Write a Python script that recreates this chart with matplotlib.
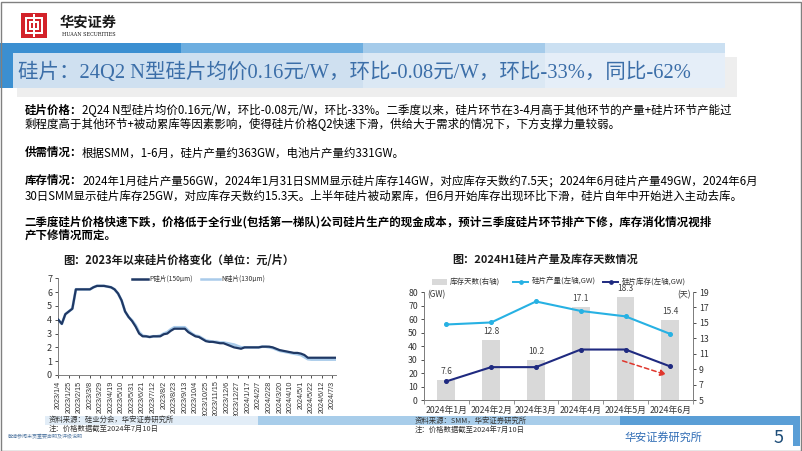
import matplotlib
matplotlib.use('Agg')
import matplotlib.pyplot as plt
from matplotlib.patches import Rectangle, FancyArrowPatch
from matplotlib.lines import Line2D
import numpy as np

plt.rcParams['font.family'] = ['Noto Sans CJK SC', 'DejaVu Sans']
plt.rcParams['axes.unicode_minus'] = False

# ---------------- data ----------------
# left chart: weekly wafer prices (元/片), 2023/1/4 .. 2024/7/10
price_tick_labels = ['2023/1/4', '2023/1/25', '2023/2/15', '2023/3/8', '2023/3/29', '2023/4/19',
                     '2023/5/10', '2023/5/31', '2023/6/21', '2023/7/12', '2023/8/2', '2023/8/23',
                     '2023/9/13', '2023/10/4', '2023/10/25', '2023/11/15', '2023/12/6', '2023/12/27',
                     '2024/1/17', '2024/2/7', '2024/2/28', '2024/3/20', '2024/4/10', '2024/5/1',
                     '2024/5/22', '2024/6/12', '2024/7/3']
p_price = [4.0, 3.7, 4.4, 4.6, 4.8, 6.2, 6.2, 6.2, 6.2, 6.2,
           6.35, 6.45, 6.45, 6.45, 6.4, 6.35, 6.2, 5.9, 5.4, 4.6,
           4.2, 3.9, 3.5, 3.0, 2.8, 2.8, 2.75, 2.8, 2.8, 2.8,
           2.95, 3.0, 3.2, 3.35, 3.35, 3.35, 3.35, 3.1, 2.95, 2.8,
           2.75, 2.6, 2.45, 2.4, 2.4, 2.35, 2.3, 2.3, 2.2, 2.1,
           2.0, 1.95, 1.9, 2.0, 2.0, 2.0, 2.0, 2.0, 2.05, 2.05,
           2.05, 2.0, 1.9, 1.8, 1.75, 1.7, 1.65, 1.6, 1.6, 1.55,
           1.45, 1.25, 1.25, 1.25, 1.25, 1.25, 1.25, 1.25, 1.25, 1.25]
n_price = [4.0, 3.7, 4.4, 4.6, 4.8, 6.2, 6.2, 6.2, 6.2, 6.2,
           6.35, 6.45, 6.45, 6.45, 6.4, 6.35, 6.2, 5.9, 5.4, 4.6,
           4.2, 3.95, 3.6, 3.1, 2.85, 2.8, 2.75, 2.8, 2.8, 2.85,
           3.0, 3.1, 3.3, 3.45, 3.45, 3.45, 3.45, 3.2, 3.0, 2.85,
           2.8, 2.65, 2.5, 2.45, 2.4, 2.4, 2.35, 2.35, 2.3, 2.25,
           2.2, 2.1, 2.0, 2.0, 2.0, 2.0, 2.0, 2.0, 2.05, 2.05,
           2.0, 1.95, 1.85, 1.75, 1.7, 1.65, 1.6, 1.55, 1.5, 1.45,
           1.3, 1.15, 1.12, 1.12, 1.12, 1.12, 1.12, 1.12, 1.12, 1.12]
tick_step = 3  # one label every 3 weeks

# right chart: 2024H1
months = ['2024年1月', '2024年2月', '2024年3月', '2024年4月', '2024年5月', '2024年6月']
inv_days = [7.6, 12.8, 10.2, 17.1, 18.3, 15.4]
production = [56, 57.5, 73, 66, 62, 49]
inventory = [14, 24.5, 24.5, 37.5, 37.5, 25]

# ---------------- figure ----------------
W, H = 802, 451
fig = plt.figure(figsize=(W / 100, H / 100), dpi=100)
fig.patch.set_facecolor('white')
R = fig.canvas.get_renderer()


def fx(x):
    return x / W


def fy(y):
    return 1 - y / H


def rect(x0, y0, x1, y1, color, z=0, **kw):
    p = Rectangle((fx(x0), fy(y1)), fx(x1) - fx(x0), fy(y0) - fy(y1),
                  transform=fig.transFigure, facecolor=color, edgecolor='none', zorder=z, **kw)
    fig.patches.append(p)
    return p


def fit_text(x, y, s, width, ha='left', va='center', **kw):
    t = fig.text(fx(x), fy(y), s, ha=ha, va=va, **kw)
    w = t.get_window_extent(R).width
    t.set_fontsize(t.get_fontsize() * width / w)
    return t


# page border
fig.patches.append(Rectangle((0.5 / W, 0.5 / H), (W - 2) / W, (H - 2) / H, transform=fig.transFigure,
                             facecolor='none', edgecolor='#808080', lw=1.0, zorder=10))

# ---------------- header ----------------
rect(21, 13, 47, 38, '#d3222a', z=1)
# stylised white emblem
for (a, b, c, d) in [(25, 17, 43, 19), (25, 32, 43, 34), (25, 17, 27, 34), (41, 17, 43, 34),
                     (29, 21, 39, 23), (29, 28, 39, 30), (33, 14, 35, 37), (29, 21, 31, 30), (37, 21, 39, 30)]:
    rect(a, b, c, d, 'white', z=2)
fit_text(60, 23, '华安证券', 57, weight='bold', color='#1a1a1a', fontsize=10)
fit_text(62, 34.5, 'HUAAN SECURITIES', 53, color='#1a1a1a', fontsize=4, family=['DejaVu Serif'])

# ---------------- title band ----------------
rect(17, 57, 737, 97, '#eeeeee', z=0)
for (a, b, c) in [(0, 181, '#3b8fd1'), (181, 363, '#6daee0'), (363, 545, '#a5cbea'), (545, 725, '#cbe0f2')]:
    rect(a, 43, b, 53, c, z=1)
rect(0, 43, 13, 88, '#3b8fd1', z=1)
for (a, b, c) in [(13, 363, '#cfe0f0'), (363, 545, '#dbe8f4'), (545, 725, '#e5eef8')]:
    rect(a, 53, b, 88, c, z=1)
fit_text(18, 72.5, '硅片：24Q2 N型硅片均价0.16元/W，环比-0.08元/W，环比-33%，同比-62%', 675,
         color='#3b6ea8', fontsize=14, family=['Liberation Serif', 'Noto Sans CJK SC'], zorder=3)

# ---------------- body text ----------------
lines = [
    (110.7, '硅片价格：', '2Q24 N型硅片均价0.16元/W，环比-0.08元/W，环比-33%。二季度以来，硅片环节在3-4月高于其他环节的产量+硅片环节产能过', False),
    (124.5, '', '剩程度高于其他环节+被动累库等因素影响，使得硅片价格Q2快速下滑，供给大于需求的情况下，下方支撑力量较弱。', False),
    (152.7, '供需情况：', '根据SMM，1-6月，硅片产量约363GW，电池片产量约331GW。', False),
    (180.7, '库存情况：', '2024年1月硅片产量56GW，2024年1月31日SMM显示硅片库存14GW，对应库存天数约7.5天；2024年6月硅片产量49GW，2024年6月', False),
    (196.0, '', '30日SMM显示硅片库存25GW，对应库存天数约15.3天。上半年硅片被动累库，但6月开始库存出现环比下滑，硅片自年中开始进入主动去库。', False),
    (221.7, '', '二季度硅片价格快速下跌，价格低于全行业(包括第一梯队)公司硅片生产的现金成本，预计三季度硅片环节排产下修，库存消化情况视排', True),
    (235.7, '', '产下修情况而定。', True),
]
# determine body font size from first line width
t1 = fig.text(0, 0, lines[0][1], fontsize=9, weight='bold')
t2 = fig.text(0, 0, lines[0][2], fontsize=9)
wtot = t1.get_window_extent(R).width + t2.get_window_extent(R).width
t1.remove(); t2.remove()
fs_body = 9 * (729 - 24.5) / wtot
for (y, lab, rest, allbold) in lines:
    xx = 24.5
    if lab:
        tl = fig.text(fx(xx), fy(y), lab, fontsize=fs_body, weight='bold', va='center', color='black')
        xx = tl.get_window_extent(R).x1
    fig.text(fx(xx), fy(y), rest, fontsize=fs_body, weight='bold' if allbold else 'normal',
             va='center', color='black')

# ---------------- chart titles ----------------
fit_text(63, 260, '图：2023年以来硅片价格变化（单位：元/片）', 232, weight='bold', color='#1a1a1a', fontsize=9)
fit_text(452, 260, '图：2024H1硅片产量及库存天数情况', 185, weight='bold', color='#1a1a1a', fontsize=9)

# ---------------- left chart ----------------
axL = fig.add_axes([fx(58.3), fy(375), fx(336) - fx(58.3), fy(278.3) - fy(375)])
x = np.arange(len(p_price))
n_line, = axL.plot(x, n_price, color='#a9cbea', lw=2.0, zorder=2)
p_line, = axL.plot(x, p_price, color='#1f3864', lw=1.6, zorder=3)
axL.set_xlim(0, len(p_price) - 1)
axL.set_ylim(0, 7)
axL.set_yticks(range(0, 8))
ticks = np.arange(0, len(p_price), tick_step)[:len(price_tick_labels)]
axL.set_xticks(ticks)
axL.set_xticklabels(price_tick_labels, rotation=90, fontsize=5.2, family=['Liberation Sans'])
axL.tick_params(axis='y', labelsize=6.5, length=2.5, width=0.6, pad=2, colors='#333333')
axL.tick_params(axis='x', length=2.5, width=0.6, pad=1.5, colors='#333333')
for s in ['top', 'right']:
    axL.spines[s].set_visible(False)
for s in ['left', 'bottom']:
    axL.spines[s].set_color('#7f7f7f')
    axL.spines[s].set_linewidth(0.7)
axL.patch.set_alpha(0)
# legend (manual placement)
fig.lines.append(Line2D([fx(131.7), fx(148)], [fy(279), fy(279)], transform=fig.transFigure,
                        color='#1f3864', lw=1.8))
fig.text(fx(149), fy(279), 'P硅片(150μm)', fontsize=4.8, va='center', color='#333333')
fig.lines.append(Line2D([fx(201), fx(220)], [fy(279), fy(279)], transform=fig.transFigure,
                        color='#a9cbea', lw=1.8))
fig.text(fx(221), fy(279), 'N硅片(130μm)', fontsize=4.8, va='center', color='#333333')

# ---------------- right chart ----------------
axR = fig.add_axes([fx(424), fy(400.3), fx(692.7) - fx(424), fy(292) - fy(400.3)])
axR2 = axR.twinx()
xr = np.arange(len(months))
axR2.bar(xr, inv_days, width=0.4, color='#d9d9d9', zorder=1, bottom=0)
axR2.set_ylim(5, 19)
for xi, v in zip(xr, inv_days):
    axR2.annotate(f'{v:.1f}', (xi, v), xytext=(0, 8.5), textcoords='offset pixels',
                  ha='center', va='center', fontsize=6.0, color='#404040')
axR2.set_yticks(range(5, 20, 2))
axR2.tick_params(axis='y', labelsize=6.3, length=2.5, width=0.6, pad=2, colors='#333333')
axR.set_zorder(axR2.get_zorder() + 1)
axR.patch.set_visible(False)
axR.plot(xr, production, color='#27b1e3', lw=1.5, marker='o', ms=2.6, zorder=3)
axR.plot(xr, inventory, color='#1f2a80', lw=1.5, marker='o', ms=2.6, zorder=3)
axR.set_ylim(0, 80)
axR.set_xlim(-0.5, len(months) - 0.5)
axR.set_yticks(range(0, 81, 10))
axR.set_xticks(xr)
axR.set_xticklabels(months, fontsize=6.3)
axR.set_xticks(np.arange(-0.5, len(months), 1), minor=True)
axR.tick_params(axis='x', which='major', length=0, pad=4, colors='#333333')
axR.tick_params(axis='x', which='minor', length=3, width=0.6, color='#7f7f7f')
axR.tick_params(axis='y', labelsize=6.3, length=2.5, width=0.6, pad=2, colors='#333333')
for ax in (axR, axR2):
    ax.spines['top'].set_visible(False)
    for s in ['left', 'right', 'bottom']:
        ax.spines[s].set_color('#7f7f7f')
        ax.spines[s].set_linewidth(0.7)
arrow = FancyArrowPatch((3.875, 29.8), (4.975, 18.2), arrowstyle='-|>', mutation_scale=9,
                        color='#e0362c', lw=1.1, linestyle=(0, (3, 2)), zorder=4)
axR.add_patch(arrow)
fig.text(fx(427), fy(295), '(GW)', fontsize=5.8, va='center', color='#333333')
fig.text(fx(677), fy(295), '(天)', fontsize=5.8, va='center', color='#333333')
# legend (manual)
rect(432, 278.5, 447, 284.5, '#d9d9d9', z=2)
fig.text(fx(450), fy(281.5), '库存天数(右轴)', fontsize=5.4, va='center', color='#333333')
fig.lines.append(Line2D([fx(513), fx(528)], [fy(281.5), fy(281.5)], transform=fig.transFigure,
                        color='#27b1e3', lw=1.4))
fig.lines.append(Line2D([fx(520.5)], [fy(281.5)], transform=fig.transFigure, color='#27b1e3',
                        marker='o', ms=2.4, lw=0))
fig.text(fx(532), fy(281.5), '硅片产量(左轴,GW)', fontsize=5.4, va='center', color='#333333')
fig.lines.append(Line2D([fx(603), fx(618)], [fy(281.5), fy(281.5)], transform=fig.transFigure,
                        color='#1f2a80', lw=1.4))
fig.lines.append(Line2D([fx(610.5)], [fy(281.5)], transform=fig.transFigure, color='#1f2a80',
                        marker='o', ms=2.4, lw=0))
fig.text(fx(622), fy(281.5), '硅片库存(左轴,GW)', fontsize=5.4, va='center', color='#333333')

# ---------------- footer ----------------
rect(45, 416, 258, 425, '#e2edf7', z=0)
rect(258, 416, 620, 425, '#a8cdea', z=0)
rect(620, 416, 800, 425, '#5a9ed6', z=0)
fig.text(fx(49), fy(420), '资料来源：硅业分会，华安证券研究所', fontsize=5.3, va='center', color='#333333')
fig.text(fx(49), fy(428.5), '注：价格数据截至2024年7月10日', fontsize=5.3, va='center', color='#333333')
fig.text(fx(415), fy(421), '资料来源：SMM，华安证券研究所', fontsize=5.3, va='center', color='#333333')
fig.text(fx(415), fy(430), '注：价格数据截至2024年7月10日', fontsize=5.3, va='center', color='#333333')
fig.text(fx(8), fy(436.5), '敬请参阅末页重要声明及评级说明', fontsize=3.6, va='center', color='#5b7fa6')
fit_text(624, 437, '华安证券研究所', 78, fontsize=9, color='#2f6cb5')
rect(793, 416, 800, 446, '#5a9ed6', z=0)
fig.text(fx(779), fy(438), '5', fontsize=13, ha='center', va='center', color='#1f4e79')

fig.savefig('out.png', dpi=100)
